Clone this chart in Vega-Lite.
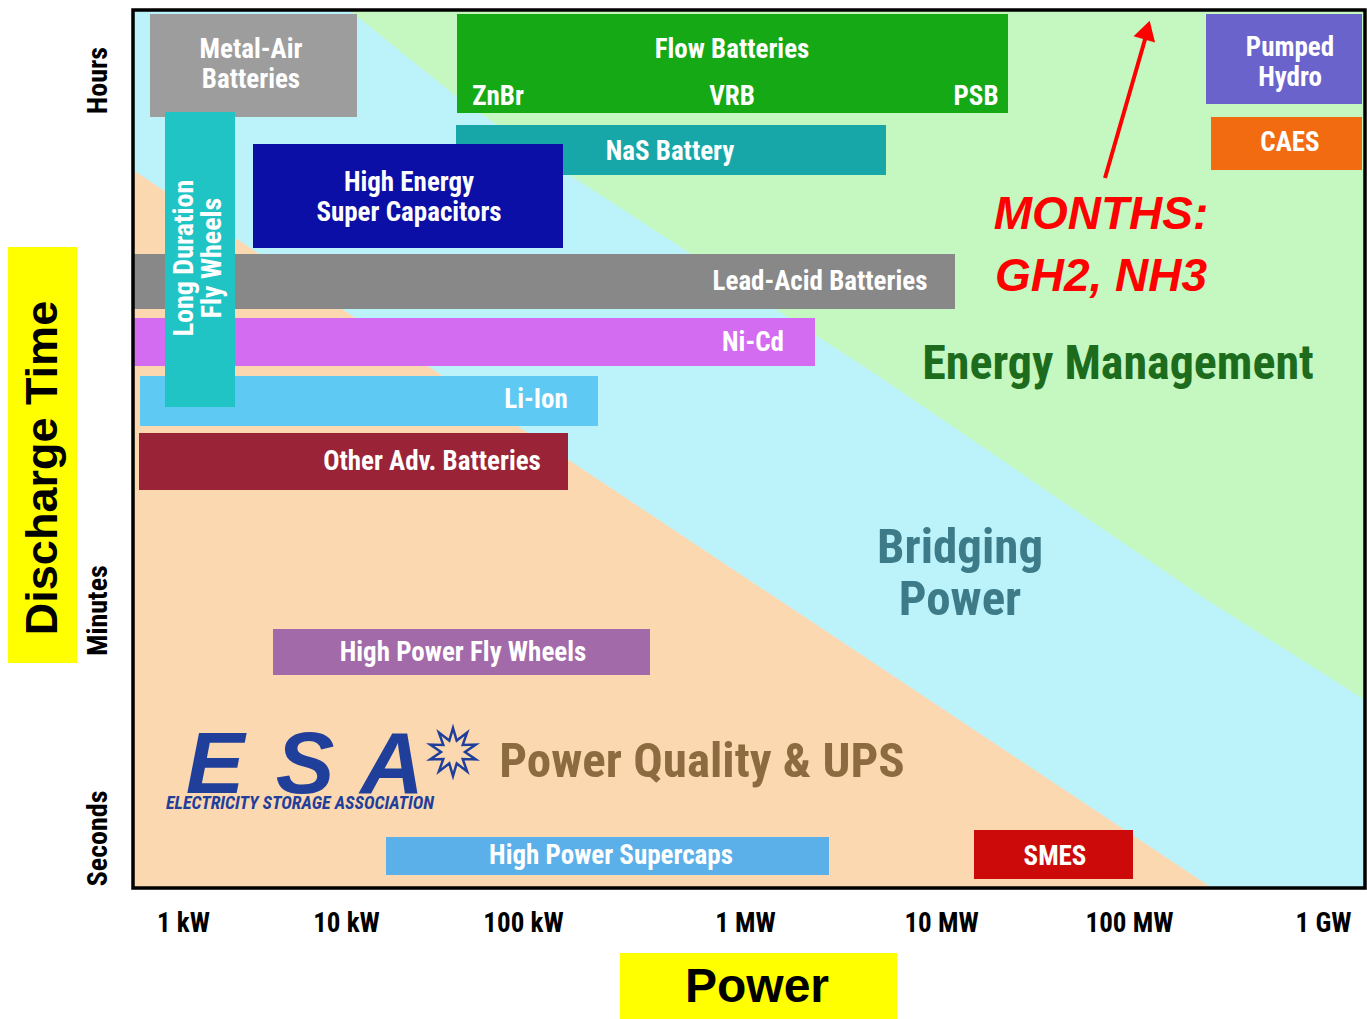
{
  "$schema": "https://vega.github.io/schema/vega-lite/v6.json",
  "width": 1232,
  "height": 878,
  "autosize": {"type": "none"},
  "padding": {"left": 133, "top": 10, "right": 2, "bottom": 131},
  "background": "white",
  "config": {"view": {"stroke": null}},
  "datasets": {
    "frame": [{"x": 0, "x2": 1232, "y": 0, "y2": 878}],
    "green": [
      {"x": 216, "top": 878, "edge": 878},
      {"x": 324, "top": 878, "edge": 791},
      {"x": 440, "top": 878, "edge": 711},
      {"x": 747, "top": 878, "edge": 511},
      {"x": 1074, "top": 878, "edge": 288},
      {"x": 1232, "top": 878, "edge": 188}
    ],
    "peach": [
      {"x": 0, "edge": 718, "base": 0},
      {"x": 1079, "edge": 0, "base": 0}
    ],
    "tech": [
      {"name": "Metal-Air Batteries", "x": 17, "x2": 224, "y": 771, "y2": 874},
      {"name": "Flow Batteries", "x": 324, "x2": 875, "y": 775, "y2": 874},
      {"name": "Pumped Hydro", "x": 1073, "x2": 1229, "y": 784, "y2": 874},
      {"name": "CAES", "x": 1078, "x2": 1229, "y": 718, "y2": 771},
      {"name": "NaS Battery", "x": 323, "x2": 753, "y": 713, "y2": 763},
      {"name": "High Energy Super Capacitors", "x": 120, "x2": 430, "y": 640, "y2": 744},
      {"name": "Lead-Acid Batteries", "x": 0, "x2": 822, "y": 579, "y2": 634},
      {"name": "Ni-Cd", "x": 0, "x2": 682, "y": 522, "y2": 570},
      {"name": "Li-Ion", "x": 7, "x2": 465, "y": 462, "y2": 512},
      {"name": "Other Adv. Batteries", "x": 6, "x2": 435, "y": 398, "y2": 455},
      {"name": "High Power Fly Wheels", "x": 140, "x2": 517, "y": 213, "y2": 259},
      {"name": "High Power Supercaps", "x": 253, "x2": 696, "y": 13, "y2": 51},
      {"name": "SMES", "x": 841, "x2": 1000, "y": 9, "y2": 58},
      {"name": "Long Duration Fly Wheels", "x": 32, "x2": 102, "y": 481, "y2": 776}
    ],
    "barlabels": [
      {"label": "Metal-Air", "x": 118, "y": 838},
      {"label": "Batteries", "x": 118, "y": 808},
      {"label": "Flow Batteries", "x": 599, "y": 838},
      {"label": "ZnBr", "x": 365, "y": 791},
      {"label": "VRB", "x": 599, "y": 791},
      {"label": "PSB", "x": 843, "y": 791},
      {"label": "Pumped", "x": 1157, "y": 840},
      {"label": "Hydro", "x": 1157, "y": 810},
      {"label": "CAES", "x": 1157, "y": 745},
      {"label": "NaS Battery", "x": 537, "y": 736},
      {"label": "High Energy", "x": 276, "y": 705},
      {"label": "Super Capacitors", "x": 276, "y": 675},
      {"label": "Lead-Acid Batteries", "x": 687, "y": 606},
      {"label": "Ni-Cd", "x": 620, "y": 545},
      {"label": "Li-Ion", "x": 403, "y": 488},
      {"label": "Other Adv. Batteries", "x": 299, "y": 426},
      {"label": "High Power Fly Wheels", "x": 330, "y": 235},
      {"label": "High Power Supercaps", "x": 478, "y": 32},
      {"label": "SMES", "x": 922, "y": 31}
    ],
    "ldlabels": [
      {"label": "Long Duration", "x": 52, "y": 630},
      {"label": "Fly Wheels", "x": 80, "y": 630}
    ],
    "arrow": [{"x": 972, "y": 710, "x2": 1013, "y2": 852}]
  },
  "layer": [
    {
      "data": {"name": "frame"},
      "mark": {"type": "rect", "fill": "#bcf3fb"},
      "encoding": {
        "x": {
          "field": "x", "type": "quantitative",
          "scale": {"domain": [0, 1232], "nice": false, "zero": false},
          "axis": {
            "values": [50, 213, 390, 612, 808, 996, 1190],
            "labelExpr": "datum.value == 50 ? '1 kW' : datum.value == 213 ? '10 kW' : datum.value == 390 ? '100 kW' : datum.value == 612 ? '1 MW' : datum.value == 808 ? '10 MW' : datum.value == 996 ? '100 MW' : '1 GW'",
            "title": null, "grid": false, "ticks": false, "domain": false,
            "labelFont": "Roboto Condensed, Liberation Sans Narrow, Liberation Sans",
            "labelFontSize": 27, "labelFontWeight": "bold", "labelColor": "black",
            "labelPadding": 22, "labelFlush": false, "labelOverlap": false
          }
        },
        "x2": {"field": "x2"},
        "y": {
          "field": "y", "type": "quantitative",
          "scale": {"domain": [0, 878], "nice": false, "zero": false},
          "axis": {
            "values": [50, 278, 808],
            "labelExpr": "datum.value == 50 ? 'Seconds' : datum.value == 278 ? 'Minutes' : 'Hours'",
            "title": null, "grid": false, "ticks": false, "domain": false,
            "labelAngle": 270, "labelAlign": "center", "labelBaseline": "bottom",
            "labelFont": "Roboto Condensed, Liberation Sans Narrow, Liberation Sans",
            "labelFontSize": 28, "labelFontWeight": "bold", "labelColor": "black",
            "labelPadding": 21, "labelFlush": false, "labelOverlap": false
          }
        },
        "y2": {"field": "y2"}
      }
    },
    {
      "data": {"name": "green"},
      "mark": {"type": "area", "fill": "#c4f8c0"},
      "encoding": {
        "x": {"field": "x", "type": "quantitative"},
        "y": {"field": "top", "type": "quantitative"},
        "y2": {"field": "edge"}
      }
    },
    {
      "data": {"name": "peach"},
      "mark": {"type": "area", "fill": "#fcd8b0"},
      "encoding": {
        "x": {"field": "x", "type": "quantitative"},
        "y": {"field": "edge", "type": "quantitative"},
        "y2": {"field": "base"}
      }
    },
    {
      "data": {"name": "tech"},
      "mark": {"type": "rect"},
      "encoding": {
        "x": {"field": "x", "type": "quantitative"},
        "x2": {"field": "x2"},
        "y": {"field": "y", "type": "quantitative"},
        "y2": {"field": "y2"},
        "color": {
          "field": "name", "type": "nominal", "legend": null,
          "scale": {
            "domain": ["Metal-Air Batteries", "Flow Batteries", "Pumped Hydro", "CAES", "NaS Battery", "High Energy Super Capacitors", "Lead-Acid Batteries", "Ni-Cd", "Li-Ion", "Other Adv. Batteries", "High Power Fly Wheels", "High Power Supercaps", "SMES", "Long Duration Fly Wheels"],
            "range": ["#9d9d9d", "#15a915", "#6b63cc", "#f26b10", "#17a7a9", "#0b0fa6", "#888888", "#d46cf1", "#5ec9f3", "#9b2337", "#a36aaa", "#5cb0ea", "#cc0a0a", "#20c4c4"]
          }
        }
      }
    },
    {
      "data": {"name": "barlabels"},
      "mark": {"type": "text", "color": "white", "fontSize": 27, "fontWeight": "bold", "font": "Roboto Condensed, Liberation Sans Narrow, Liberation Sans", "align": "center", "baseline": "middle"},
      "encoding": {
        "x": {"field": "x", "type": "quantitative"},
        "y": {"field": "y", "type": "quantitative"},
        "text": {"field": "label"}
      }
    },
    {
      "data": {"name": "ldlabels"},
      "mark": {"type": "text", "color": "white", "fontSize": 28, "fontWeight": "bold", "angle": 270, "font": "Roboto Condensed, Liberation Sans Narrow, Liberation Sans", "align": "center", "baseline": "middle"},
      "encoding": {
        "x": {"field": "x", "type": "quantitative"},
        "y": {"field": "y", "type": "quantitative"},
        "text": {"field": "label"}
      }
    },
    {
      "data": {"values": [{"label": "Energy Management", "x": 985, "y": 523}]},
      "mark": {"type": "text", "color": "#1d6c1d", "fontSize": 48, "fontWeight": "bold", "font": "Roboto Condensed, Liberation Sans Narrow, Liberation Sans", "align": "center", "baseline": "middle"},
      "encoding": {
        "x": {"field": "x", "type": "quantitative"},
        "y": {"field": "y", "type": "quantitative"},
        "text": {"field": "label"}
      }
    },
    {
      "data": {"values": [{"label": "Bridging", "x": 827, "y": 340}, {"label": "Power", "x": 827, "y": 288}]},
      "mark": {"type": "text", "color": "#3e7b89", "fontSize": 49, "fontWeight": "bold", "font": "Roboto Condensed, Liberation Sans Narrow, Liberation Sans", "align": "center", "baseline": "middle"},
      "encoding": {
        "x": {"field": "x", "type": "quantitative"},
        "y": {"field": "y", "type": "quantitative"},
        "text": {"field": "label"}
      }
    },
    {
      "data": {"values": [{"label": "Power Quality & UPS", "x": 569, "y": 126}]},
      "mark": {"type": "text", "color": "#8b6b3f", "fontSize": 49, "fontWeight": "bold", "font": "Roboto Condensed, Liberation Sans Narrow, Liberation Sans", "align": "center", "baseline": "middle"},
      "encoding": {
        "x": {"field": "x", "type": "quantitative"},
        "y": {"field": "y", "type": "quantitative"},
        "text": {"field": "label"}
      }
    },
    {
      "data": {"values": [{"letter": "E", "x": 82, "y": 95}, {"letter": "S", "x": 172, "y": 95}, {"letter": "A", "x": 259, "y": 95}]},
      "mark": {"type": "text", "color": "#1f3f9b", "fontSize": 88, "fontWeight": "bold", "fontStyle": "italic", "font": "Liberation Sans", "align": "center", "baseline": "alphabetic"},
      "encoding": {
        "x": {"field": "x", "type": "quantitative"},
        "y": {"field": "y", "type": "quantitative"},
        "text": {"field": "letter"}
      }
    },
    {
      "data": {"values": [{"x": 320, "y": 136}]},
      "mark": {"type": "point", "shape": "M0,-1L0.155,-0.476L0.588,-0.809L0.405,-0.294L0.951,-0.309L0.5,0L0.951,0.309L0.405,0.294L0.588,0.809L0.155,0.476L0,1L-0.155,0.476L-0.588,0.809L-0.405,0.294L-0.951,0.309L-0.5,0L-0.951,-0.309L-0.405,-0.294L-0.588,-0.809L-0.155,-0.476Z", "size": 2300, "filled": false, "stroke": "#1f3f9b", "strokeWidth": 2.5, "opacity": 1},
      "encoding": {
        "x": {"field": "x", "type": "quantitative"},
        "y": {"field": "y", "type": "quantitative"}
      }
    },
    {
      "data": {"values": [{"label": "ELECTRICITY STORAGE ASSOCIATION", "x": 167, "y": 84}]},
      "mark": {"type": "text", "color": "#1f3f9b", "fontSize": 18, "fontWeight": "bold", "fontStyle": "italic", "font": "Roboto Condensed, Liberation Sans Narrow, Liberation Sans", "align": "center", "baseline": "middle"},
      "encoding": {
        "x": {"field": "x", "type": "quantitative"},
        "y": {"field": "y", "type": "quantitative"},
        "text": {"field": "label"}
      }
    },
    {
      "data": {"values": [{"label": "MONTHS:", "x": 968, "y": 673}, {"label": "GH2, NH3", "x": 968, "y": 611}]},
      "mark": {"type": "text", "color": "#ff0000", "fontSize": 46, "fontWeight": "bold", "fontStyle": "italic", "font": "Liberation Sans", "align": "center", "baseline": "middle"},
      "encoding": {
        "x": {"field": "x", "type": "quantitative"},
        "y": {"field": "y", "type": "quantitative"},
        "text": {"field": "label"}
      }
    },
    {
      "data": {"name": "arrow"},
      "mark": {"type": "rule", "color": "#ff0000", "strokeWidth": 4},
      "encoding": {
        "x": {"field": "x", "type": "quantitative"},
        "y": {"field": "y", "type": "quantitative"},
        "x2": {"field": "x2"},
        "y2": {"field": "y2"}
      }
    },
    {
      "data": {"values": [{"x": 1014, "y": 858}]},
      "mark": {"type": "point", "shape": "triangle-up", "size": 500, "filled": true, "color": "#ff0000", "opacity": 1, "angle": 16},
      "encoding": {
        "x": {"field": "x", "type": "quantitative"},
        "y": {"field": "y", "type": "quantitative"}
      }
    },
    {
      "data": {"name": "frame"},
      "mark": {"type": "rect", "fillOpacity": 0, "stroke": "black", "strokeWidth": 3.5},
      "encoding": {
        "x": {"field": "x", "type": "quantitative"},
        "x2": {"field": "x2"},
        "y": {"field": "y", "type": "quantitative"},
        "y2": {"field": "y2"}
      }
    },
    {
      "data": {"values": [{"label": "Discharge Time", "x": -125, "x2": -56, "y": 225, "y2": 641}, {"label": "Power", "x": 487, "x2": 764, "y": -131, "y2": -65}]},
      "mark": {"type": "rect", "fill": "#ffff00"},
      "encoding": {
        "x": {"field": "x", "type": "quantitative"},
        "x2": {"field": "x2"},
        "y": {"field": "y", "type": "quantitative"},
        "y2": {"field": "y2"}
      }
    },
    {
      "data": {"values": [{"label": "Discharge Time", "x": -90, "y": 420}]},
      "mark": {"type": "text", "color": "black", "fontSize": 45, "fontWeight": "bold", "angle": 270, "font": "Liberation Sans", "align": "center", "baseline": "middle"},
      "encoding": {
        "x": {"field": "x", "type": "quantitative"},
        "y": {"field": "y", "type": "quantitative"},
        "text": {"field": "label"}
      }
    },
    {
      "data": {"values": [{"label": "Power", "x": 624, "y": -100}]},
      "mark": {"type": "text", "color": "black", "fontSize": 48, "fontWeight": "bold", "font": "Liberation Sans", "align": "center", "baseline": "middle"},
      "encoding": {
        "x": {"field": "x", "type": "quantitative"},
        "y": {"field": "y", "type": "quantitative"},
        "text": {"field": "label"}
      }
    }
  ]
}
